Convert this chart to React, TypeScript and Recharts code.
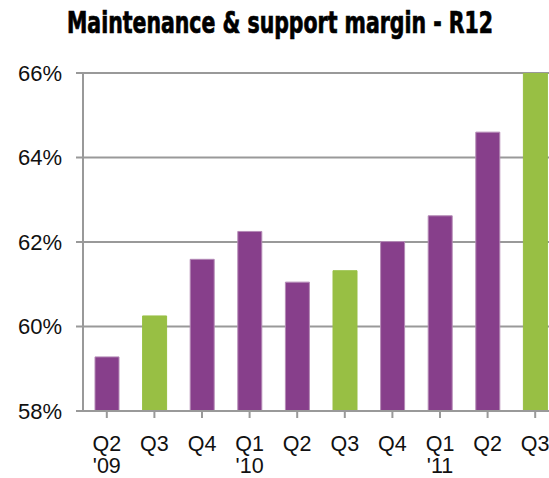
import React from 'react'
import { BarChart, Bar, XAxis, YAxis, CartesianGrid, Cell } from 'recharts'

const QUARTERS = ['Q2', 'Q3', 'Q4', 'Q1', 'Q2', 'Q3', 'Q4', 'Q1', 'Q2', 'Q3']
const YEARS = ["'09", '', '', "'10", '', '', '', "'11", '', '']
const MARGIN = [59.28, 60.25, 61.59, 62.25, 61.05, 61.32, 62.01, 62.62, 64.6, 66.0]
const HIGHLIGHT = [false, true, false, false, false, true, false, false, false, true]
const Y_TICKS = [58, 60, 62, 64, 66]

const PURPLE = '#873f8b'
const PURPLE_EDGE = '#b48ab6'
const GREEN = '#98bf44'
const AXIS = '#999999'
const FONT = '"Liberation Sans", Arial, sans-serif'

const data = QUARTERS.map((q, i) => ({
  key: `${q} ${YEARS[i]}`.trim() + '#' + i,
  margin: MARGIN[i],
  hl: HIGHLIGHT[i],
}))

const QuarterTick = (props: any) => {
  const { x, y, index } = props
  return (
    <g>
      <text x={x} y={y + 31} textAnchor="middle" fontFamily={FONT} fontSize={21.5} fill="#111">
        {QUARTERS[index]}
      </text>
      {YEARS[index] && (
        <text x={x} y={y + 53} textAnchor="middle" fontFamily={FONT} fontSize={21.5} fill="#111">
          {YEARS[index]}
        </text>
      )}
    </g>
  )
}

export default function App() {
  return (
    <div style={{ position: 'absolute', left: 0, top: 0, width: 549, height: 478, overflow: 'hidden', background: '#fff' }}>
      <svg width={549} height={60} style={{ position: 'absolute', left: 0, top: 0 }}>
        <text
          transform="translate(67,33) scale(1,1.17)"
          x={0}
          y={0}
          fontFamily='"DejaVu Sans Condensed", "Liberation Sans Narrow", sans-serif'
          fontWeight="bold"
          fontSize={25}
          textLength={426}
          lengthAdjust="spacingAndGlyphs"
          fill="#000"
          stroke="#000"
          strokeWidth={0.6}
        >
          Maintenance &amp; support margin - R12
        </text>
      </svg>
      <BarChart
        width={560}
        height={478}
        data={data}
        margin={{ top: 73, right: 1, bottom: 7, left: 0 }}
        barSize={24}
      >
        <CartesianGrid vertical={false} stroke={AXIS} strokeWidth={2} />
        <XAxis
          dataKey="key"
          height={60}
          axisLine={{ stroke: AXIS, strokeWidth: 2 }}
          tickLine={{ stroke: AXIS, strokeWidth: 2 }}
          tickSize={7}
          interval={0}
          tick={<QuarterTick />}
        />
        <YAxis
          width={83}
          domain={[58, 66]}
          ticks={Y_TICKS}
          allowDataOverflow
          axisLine={{ stroke: AXIS, strokeWidth: 2 }}
          tickLine={{ stroke: AXIS, strokeWidth: 2 }}
          tickSize={7}
          tickMargin={14}
          tickFormatter={(v) => `${v}%`}
          tick={{ fontFamily: FONT, fontSize: 22, fill: '#111' }}
        />
        <Bar dataKey="margin" isAnimationActive={false}>
          {data.map((d, i) => (
            <Cell
              key={i}
              fill={d.hl ? GREEN : PURPLE}
              stroke={d.hl ? GREEN : PURPLE_EDGE}
              strokeWidth={1}
            />
          ))}
        </Bar>
      </BarChart>
    </div>
  )
}
